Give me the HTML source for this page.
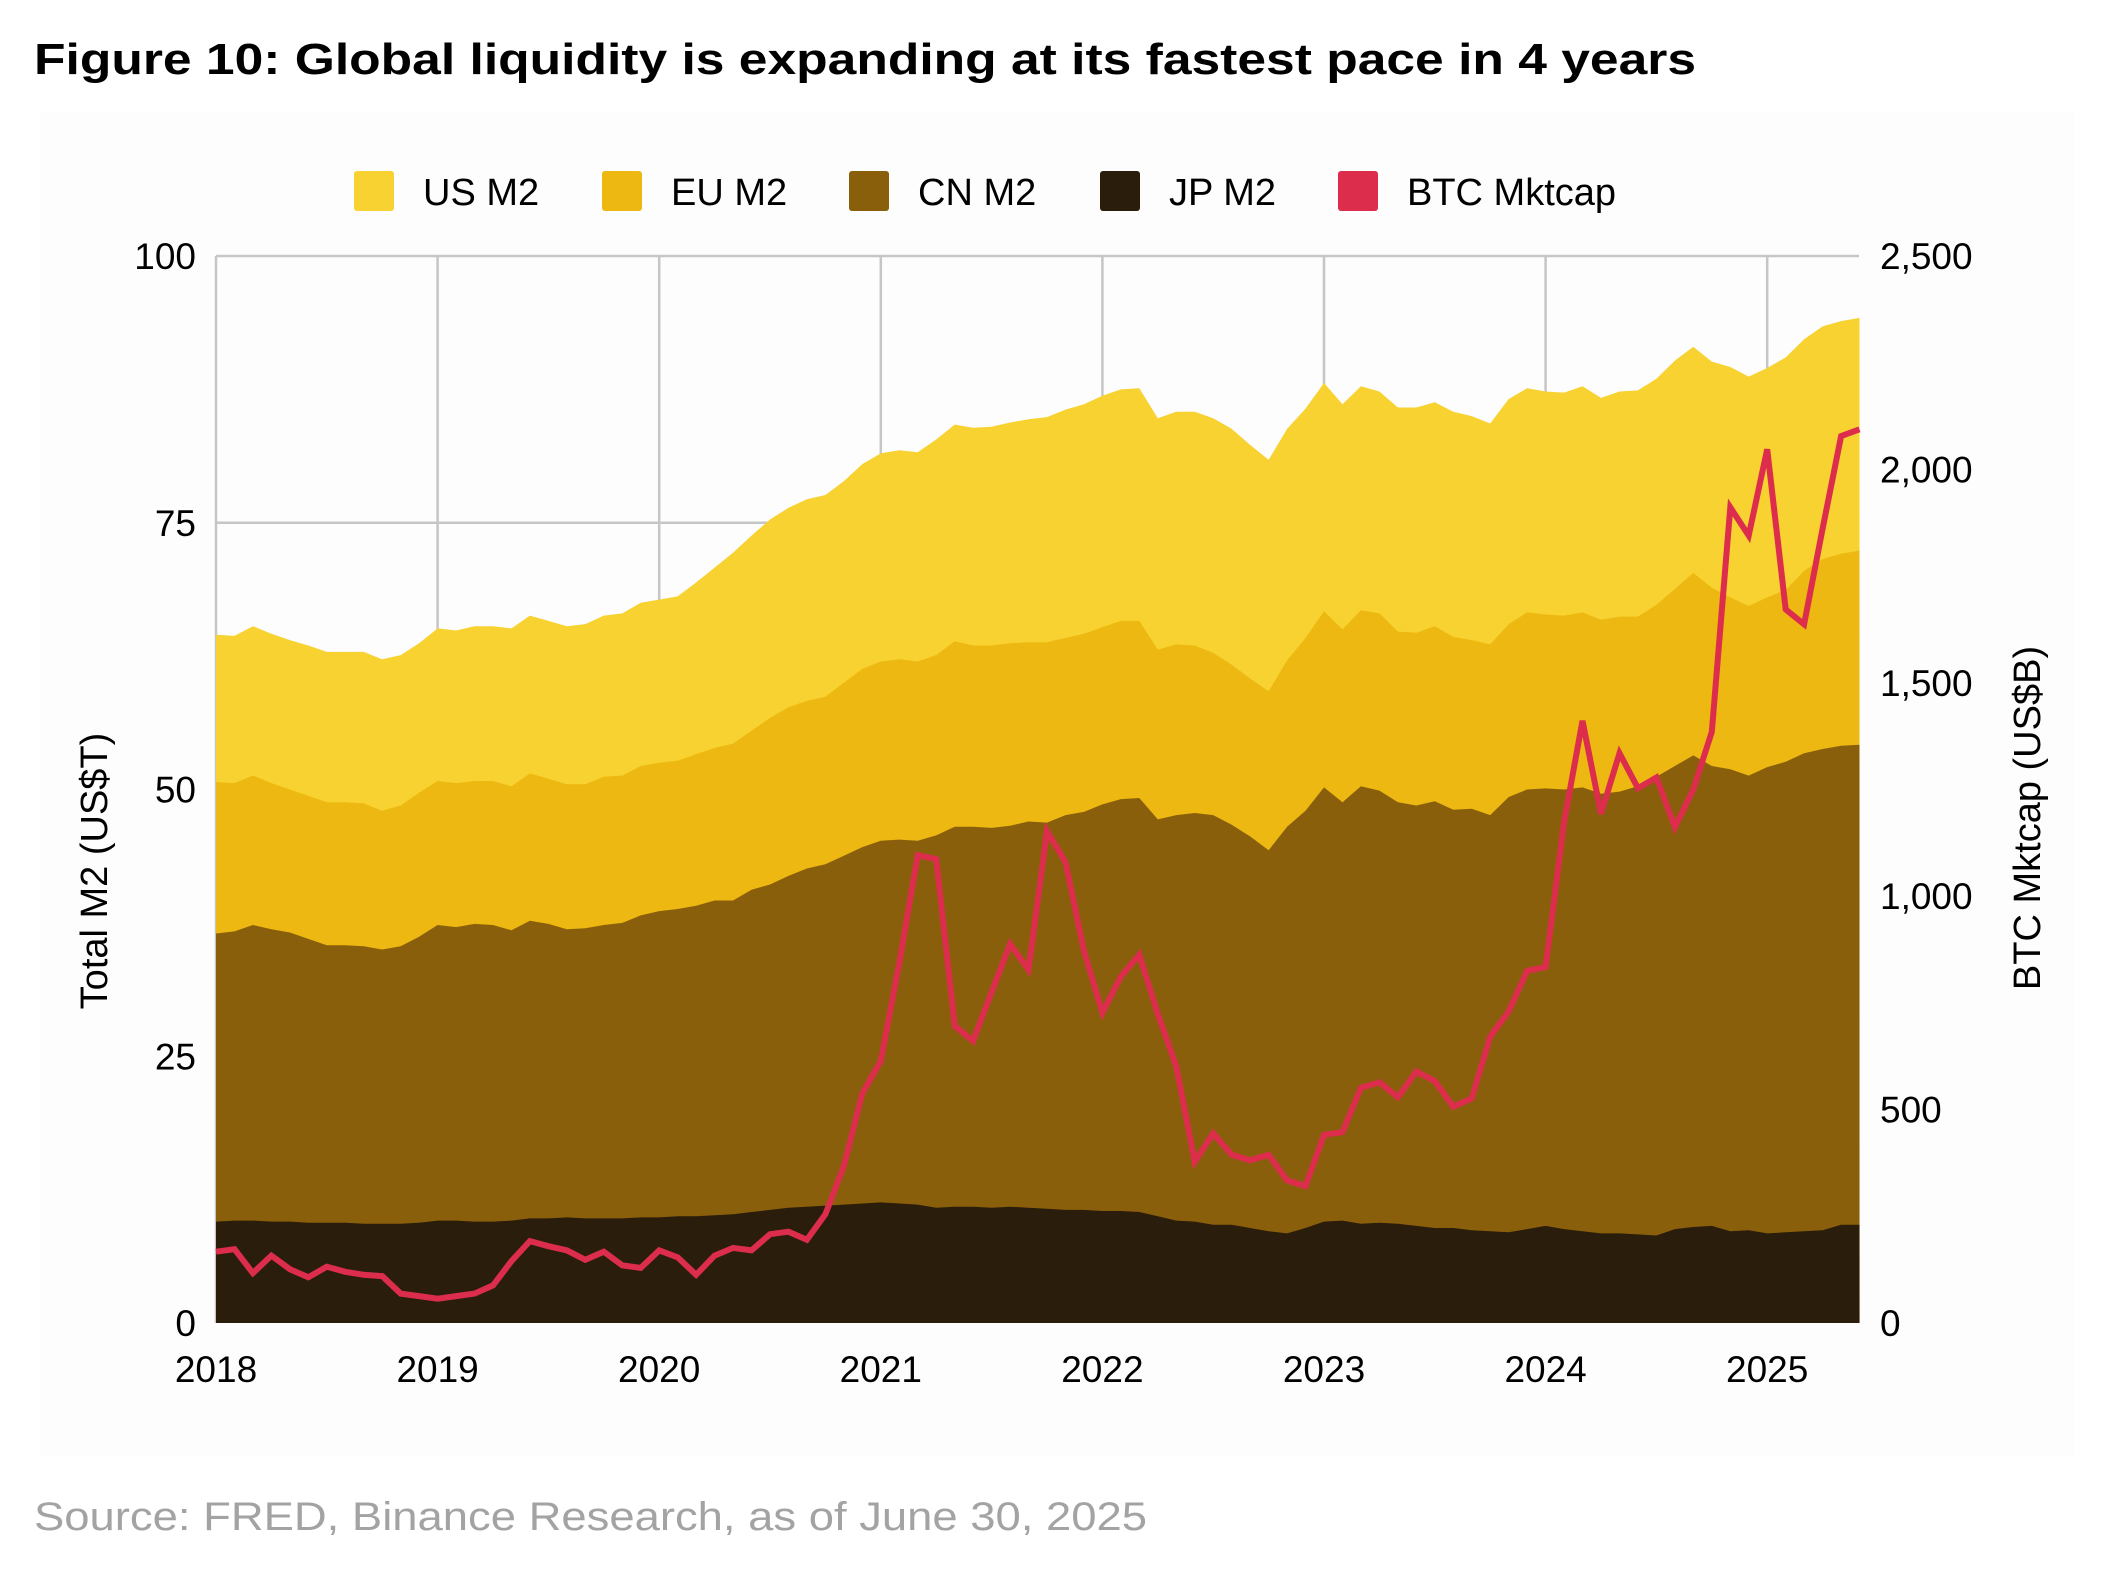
<!DOCTYPE html>
<html><head><meta charset="utf-8"><style>
body{margin:0;background:#fff;width:2109px;height:1590px;overflow:hidden;font-family:"Liberation Sans",sans-serif}
svg{display:block}
</style></head><body>
<svg id="c" width="2109" height="1590" viewBox="0 0 2109 1590" xmlns="http://www.w3.org/2000/svg">
<rect x="40" y="112" width="2035" height="1345" fill="#fdfdfd"/>
<text x="34" y="74" font-size="44" font-weight="bold" fill="#000" textLength="1662" lengthAdjust="spacingAndGlyphs">Figure 10: Global liquidity is expanding at its fastest pace in 4 years</text>
<text x="34" y="1530" font-size="40" fill="#a3a3a3" textLength="1113" lengthAdjust="spacingAndGlyphs">Source: FRED, Binance Research, as of June 30, 2025</text>
<g id="legend"></g>
<g id="grid"></g>
<g id="areas"></g>
<g id="line"></g>
<g id="axes"></g>
<text transform="translate(107,871) rotate(-90)" text-anchor="middle" font-size="38" fill="#000">Total M2 (US$T)</text>
<text transform="translate(2040,818) rotate(-90)" text-anchor="middle" font-size="38" fill="#000">BTC Mktcap (US$B)</text>
</svg>
<script>
const jpM2=[9.5,9.6,9.6,9.5,9.5,9.4,9.4,9.4,9.3,9.3,9.3,9.4,9.6,9.6,9.5,9.5,9.6,9.8,9.8,9.9,9.8,9.8,9.8,9.9,9.9,10,10,10.1,10.2,10.4,10.6,10.8,10.9,11,11.1,11.2,11.3,11.2,11.1,10.8,10.9,10.9,10.8,10.9,10.8,10.7,10.6,10.6,10.5,10.5,10.4,10,9.6,9.5,9.2,9.2,8.9,8.6,8.4,8.9,9.5,9.6,9.3,9.4,9.3,9.1,8.9,8.9,8.7,8.6,8.5,8.8,9.1,8.8,8.6,8.4,8.4,8.3,8.2,8.8,9,9.1,8.6,8.7,8.4,8.5,8.6,8.7,9.2,9.2];
const cnTop=[36.5,36.7,37.3,36.9,36.6,36,35.4,35.4,35.3,35,35.3,36.2,37.3,37.1,37.4,37.3,36.8,37.7,37.4,36.9,37,37.3,37.5,38.2,38.6,38.8,39.1,39.6,39.6,40.6,41.1,41.9,42.6,43,43.8,44.6,45.2,45.3,45.2,45.7,46.5,46.5,46.4,46.6,47,46.9,47.6,47.9,48.6,49.1,49.2,47.2,47.6,47.8,47.6,46.7,45.6,44.3,46.5,48,50.2,48.8,50.3,49.9,48.8,48.5,48.9,48.1,48.2,47.6,49.3,50,50.1,50,50.2,49.6,49.8,50.3,51.2,52.2,53.2,52.2,51.9,51.3,52.1,52.6,53.4,53.8,54.1,54.2];
const euTop=[50.7,50.6,51.3,50.6,50,49.4,48.8,48.8,48.7,48,48.5,49.7,50.8,50.6,50.8,50.8,50.3,51.5,51,50.5,50.5,51.2,51.3,52.2,52.5,52.7,53.3,53.9,54.3,55.5,56.7,57.7,58.3,58.7,60,61.3,62,62.2,62,62.6,63.9,63.5,63.5,63.7,63.8,63.8,64.2,64.6,65.2,65.8,65.8,63.1,63.6,63.5,62.8,61.7,60.4,59.2,62.1,64.2,66.7,65,66.8,66.5,64.8,64.7,65.3,64.3,64,63.6,65.5,66.6,66.4,66.3,66.6,65.9,66.2,66.2,67.3,68.8,70.3,68.9,68,67.2,68,68.7,70.5,71.6,72.1,72.4];
const usTop=[64.5,64.4,65.3,64.6,64,63.5,62.9,62.9,62.9,62.2,62.6,63.7,65.1,64.9,65.3,65.3,65.1,66.3,65.8,65.3,65.5,66.3,66.5,67.5,67.8,68.1,69.4,70.8,72.2,73.8,75.3,76.4,77.2,77.6,78.9,80.5,81.5,81.8,81.6,82.8,84.2,83.9,84,84.4,84.7,84.9,85.6,86.1,86.9,87.5,87.6,84.8,85.4,85.4,84.8,83.8,82.3,80.9,83.8,85.7,88.1,86.1,87.8,87.3,85.8,85.8,86.3,85.4,85,84.3,86.6,87.6,87.3,87.2,87.8,86.7,87.3,87.4,88.5,90.2,91.5,90.1,89.6,88.7,89.5,90.5,92.2,93.4,93.9,94.2];
const btcMktcap=[167,173,117,158,126,107,132,120,113,110,69,63,57,63,69,88,145,192,180,170,148,167,135,129,170,154,113,158,176,170,208,214,195,255,368,538,614,844,1096,1087,696,661,775,888,828,1152,1080,872,727,812,863,724,601,378,444,394,381,394,334,321,441,447,551,564,529,589,567,507,526,671,730,825,834,1174,1411,1193,1335,1253,1278,1162,1250,1385,1911,1845,2047,1672,1637,1861,2078,2094];
const yearLabels=["2018","2019","2020","2021","2022","2023","2024","2025"];
const leftTicks=[0,25,50,75,100];
const rightTicks=[0,500,1000,1500,2000,2500];
const seriesNames=["US M2","EU M2","CN M2","JP M2","BTC Mktcap"];

const NS="http://www.w3.org/2000/svg";
const L=216,R=1859,T=256,B=1323,YS=221.6;
const x=i=>L+i*(YS/12);
const yL=v=>B-(v-0)/100*(B-T);
const yR=v=>B-v/2500*(B-T);
function mk(tag,attrs,parent){const e=document.createElementNS(NS,tag);for(const k in attrs)e.setAttribute(k,attrs[k]);parent.appendChild(e);return e;}
const grid=document.getElementById('grid'),areas=document.getElementById('areas'),line=document.getElementById('line'),axes=document.getElementById('axes'),legend=document.getElementById('legend');

leftTicks.forEach(t=>{
  if(t>0){const g=mk('line',{x1:L,x2:R,y1:yL(t),y2:yL(t),stroke:'#c6c6c6','stroke-width':2.5},grid);
  
  }
  const tx=mk('text',{x:196,y:yL(t)+13,'text-anchor':'end','font-size':37,fill:'#000'},axes);tx.textContent=t;
  
  
});
rightTicks.forEach(t=>{
  const tx=mk('text',{x:1880,y:yR(t)+13,'font-size':37,fill:'#000'},axes);tx.textContent=t.toLocaleString('en-US');
  
  
});
yearLabels.forEach((lab,k)=>{
  const xx=L+k*YS;
  const g=mk('line',{x1:xx,x2:xx,y1:T,y2:B,stroke:'#c6c6c6','stroke-width':2.5},grid);
  
  
  const tx=mk('text',{x:xx,y:1382,'text-anchor':'middle','font-size':37,fill:'#000'},axes);tx.textContent=lab;
  
  
});
function area(top,color,name){
  let d='M'+x(0)+','+B;
  top.forEach((v,i)=>{d+=' L'+x(i).toFixed(1)+','+yL(v).toFixed(1);});
  d+=' L'+x(top.length-1)+','+B+' Z';
  const p=mk('path',{d:d,fill:color},areas);
  
  
}
area(usTop,'#F7D230','area-us-m2');
area(euTop,'#EDB811','area-eu-m2');
area(cnTop,'#8A5F0B','area-cn-m2');
area(jpM2,'#2A1D0B','area-jp-m2');
const pts=btcMktcap.map((v,i)=>x(i).toFixed(1)+','+yR(v).toFixed(1)).join(' ');
const pl=mk('polyline',{points:pts,fill:'none',stroke:'#DC2D4D','stroke-width':6,'stroke-linejoin':'miter'},line);



const legColors=['#F7D230','#EDB811','#8A5F0B','#2A1D0B','#DC2D4D'];
const legX=[354,602,849,1100,1338];
seriesNames.forEach((n,k)=>{
  const g=mk('g',{},legend);
  
  
  mk('rect',{x:legX[k],y:171,width:40,height:40,rx:3,fill:legColors[k]},g);
  const t=mk('text',{x:legX[k]+69,y:205,'font-size':38,fill:'#000'},g);t.textContent=n;
});
</script>
</body></html>
